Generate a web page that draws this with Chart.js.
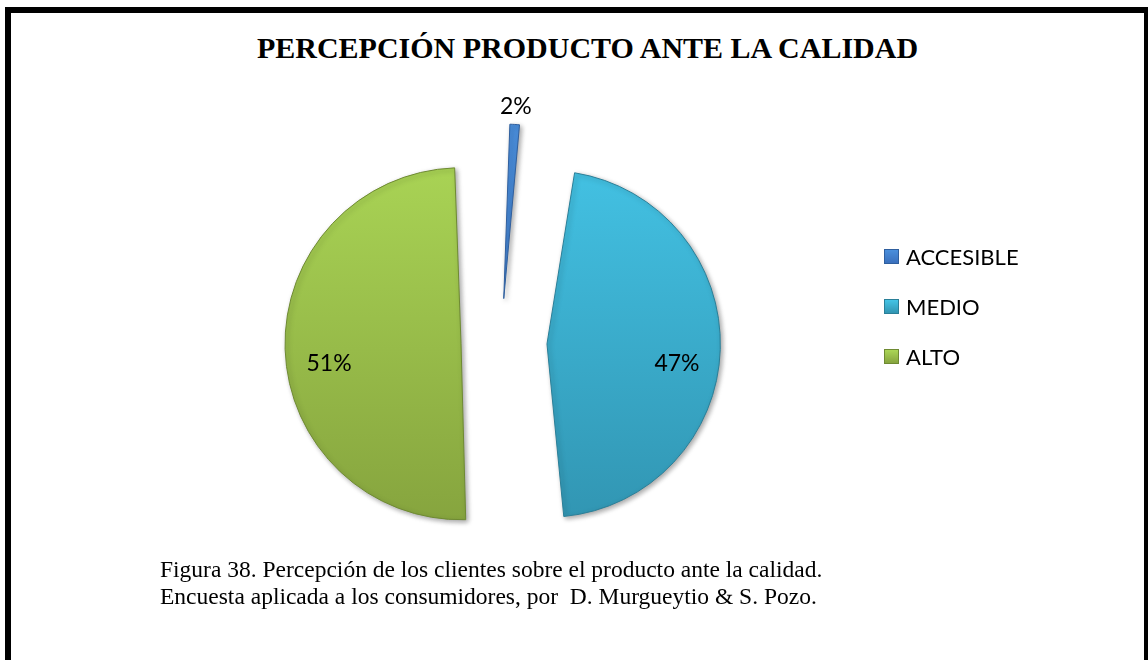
<!DOCTYPE html>
<html lang="es">
<head>
<meta charset="utf-8">
<script src="https://cdn.jsdelivr.net/npm/chart.js@4.4.1/dist/chart.umd.min.js"></script>
<style>
  html, body {
    margin: 0;
    padding: 0;
    background: #fff;
  }
  body {
    position: relative;
    width: 1148px;
    height: 660px;
    overflow: hidden;
  }
  .frame {
    position: absolute;
    left: 5px;
    top: 7px;
    width: 1145px;
    height: 700px;
    box-sizing: border-box;
    border: 6px solid #000;
  }
  .title {
    position: absolute;
    left: 0;
    top: 31px;
    width: 1175px;
    text-align: center;
    font: bold 30px/34px "Liberation Serif", "Times New Roman", serif;
    color: #000;
  }
  .chart-box {
    position: absolute;
    left: 0;
    top: 0;
    width: 1148px;
    height: 660px;
  }
  .legend {
    position: absolute;
    left: 884px;
    top: 246px;
    margin: 0;
    padding: 0;
    list-style: none;
    font: 22px Lato, "Open Sans", sans-serif;
    color: #000;
  }
  .legend li {
    display: flex;
    align-items: center;
    height: 20px;
    margin-bottom: 30px;
  }
  .legend .swatch {
    width: 15px;
    height: 15px;
    box-sizing: border-box;
    margin-right: 7px;
  }
  .caption {
    position: absolute;
    left: 160px;
    top: 556px;
    font: 23.5px/26.5px "Liberation Serif", "Times New Roman", serif;
    color: #000;
  }
</style>
</head>
<body>
<div class="frame"></div>
<div class="title">PERCEPCIÓN PRODUCTO ANTE LA CALIDAD</div>
<div class="chart-box"><canvas id="pie"></canvas></div>
<ul class="legend"></ul>
<div class="caption">
  Figura 38. Percepción de los clientes sobre el producto ante la calidad.<br>
  Encuesta aplicada a los consumidores, por&nbsp; D. Murgueytio &amp; S. Pozo.
</div>

<script>
// pie data

const categories = ["ACCESIBLE", "MEDIO", "ALTO"];
const percents = [2, 47, 51];

// slice look: lighter tone at the top, base tone at the bottom
const lightColors = ["#4a8fdc", "#44c4e6", "#abd656"];
const baseColors = ["#3a70bd", "#3195b2", "#86a43e"];
const edgeColors = ["#2f5f9e", "#2a7f98", "#6e8a32"];
const explode = [176, 184, 160];
const labelPlace = ["outside", "inside", "inside"];

const shade = (ctx) => {
    const chart = ctx.chart;
    const i = ctx.dataIndex;
    const area = chart.chartArea;
    if (!area) return baseColors[i];
    const cy = (area.top + area.bottom) / 2;
    const g = chart.ctx.createLinearGradient(0, cy - 200, 0, cy + 180);
    g.addColorStop(0, lightColors[i]);
    g.addColorStop(1, baseColors[i]);
    return g;
};

// percent labels + soft shadow under the slices
const sliceLabels = {
    id: "sliceLabels",
    beforeDatasetsDraw(chart) {
        const c = chart.ctx;
        c.save();
        c.shadowColor = "rgba(0, 0, 0, 0.35)";
        c.shadowBlur = 5;
        c.shadowOffsetX = 2;
        c.shadowOffsetY = 2;
    },
    afterDatasetsDraw(chart) {
        const c = chart.ctx;
        c.restore();
        const meta = chart.getDatasetMeta(0);
        c.save();
        c.font = "23px Lato, 'Open Sans', sans-serif";
        c.fillStyle = "#000";
        c.textAlign = "center";
        c.textBaseline = "middle";
        meta.data.forEach((arc, i) => {
            const mid = (arc.startAngle + arc.endAngle) / 2;
            const shift = (arc.options.offset || 0) / 4;
            const grow = shift * (1 - Math.sin(Math.min(Math.PI, arc.circumference)));
            const r = arc.outerRadius + grow;
            const cx = arc.x + Math.cos(mid) * shift;
            const cy = arc.y + Math.sin(mid) * shift;
            let d = r * 0.75;
            let drop = 16;
            if (labelPlace[i] === "outside") {
                d = r + 18;
                drop = 0;
            }
            c.fillText(percents[i] + "%", cx + Math.cos(mid) * d, cy + Math.sin(mid) * d + drop);
        });
        c.restore();
    }
};

const pie = document.querySelector("#pie");

new Chart(pie, {
    type: "pie",
    data: {
        labels: categories,
        datasets: [
            {
                data: percents,
                backgroundColor: shade,
                borderColor: edgeColors,
                borderWidth: 1,
                offset: explode,
                hoverOffset: 0,
                radius: 136,
            },
        ],
    },
    options: {
        responsive: true,
        maintainAspectRatio: false,
        animation: false,
        layout: {
            padding: { left: 0, right: 146, top: 25, bottom: 0 },
        },
        plugins: {
            legend: { display: false },
            tooltip: { enabled: false },
        },
    },
    plugins: [sliceLabels],
});

// legend

const ul = document.querySelector(".legend");

const populateUl = () => {
    categories.forEach((l, i) => {
        let li = document.createElement("li");
        li.innerHTML = `<span class="swatch" style="background: linear-gradient(${lightColors[i]}, ${baseColors[i]}); border: 1px solid ${edgeColors[i]}"></span>${l}`;
        ul.appendChild(li);
    });
};

populateUl();
</script>
</body>
</html>
